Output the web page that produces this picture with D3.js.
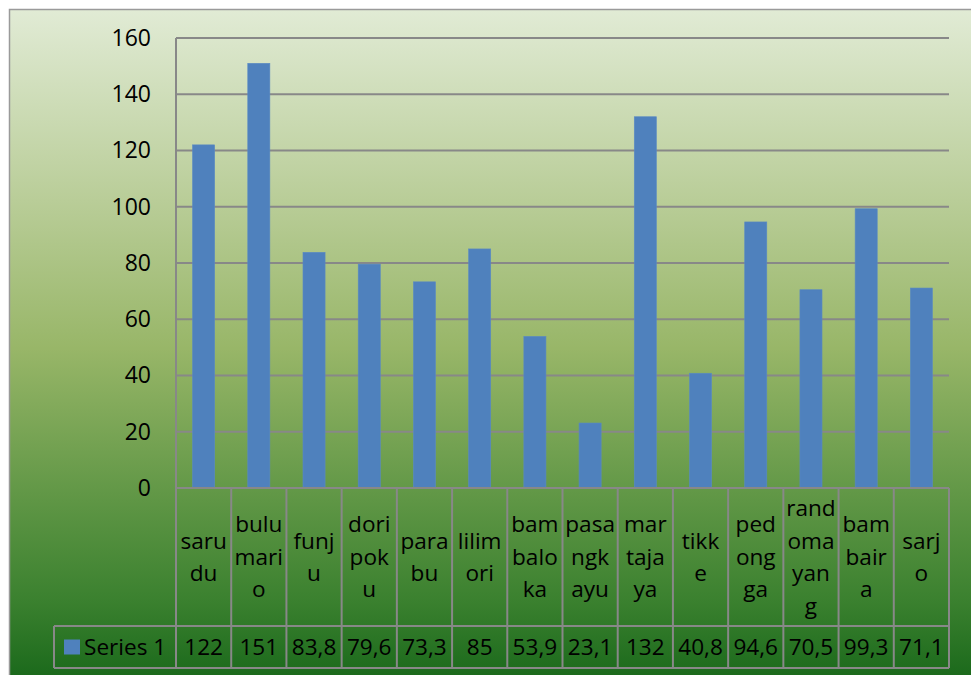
<!DOCTYPE html>
<html>
<head>
<meta charset="utf-8">
<script src="https://cdn.jsdelivr.net/npm/d3@7"></script>
<style>
  html, body { margin: 0; padding: 0; background: #ffffff; }
  svg { display: block; }
  text { font-family: "Open Sans", "Noto Sans", sans-serif; fill: #000; }
</style>
</head>
<body>
<svg id="chart" width="971" height="675"></svg>
<script>
// Category names, split into the lines shown in each table cell
const categoryLines = [
  ["saru", "du"],
  ["bulu", "mari", "o"],
  ["funj", "u"],
  ["dori", "pok", "u"],
  ["para", "bu"],
  ["lilim", "ori"],
  ["bam", "balo", "ka"],
  ["pasa", "ngk", "ayu"],
  ["mar", "taja", "ya"],
  ["tikk", "e"],
  ["ped", "ong", "ga"],
  ["rand", "oma", "yan", "g"],
  ["bam", "bair", "a"],
  ["sarj", "o"]
];
const categories = categoryLines.map(l => l.join(""));
const seriesName = "Series 1";
const values = [122, 151, 83.8, 79.6, 73.3, 85, 53.9, 23.1, 132, 40.8, 94.6, 70.5, 99.3, 71.1];
const yTicks = [0, 20, 40, 60, 80, 100, 120, 140, 160];

const svg = d3.select("#chart");

// Layout
const plotLeft = 176, plotRight = 949, plotTop = 38, plotBottom = 488;
const catRowBottom = 626, tableBottom = 668, legendLeft = 54;
const gridColor = "#888888";
const fontSize = "22.6px";

// Background gradient of the chart area
const defs = svg.append("defs");
const grad = defs.append("linearGradient")
  .attr("id", "bg")
  .attr("gradientUnits", "userSpaceOnUse")
  .attr("x1", 0).attr("y1", 9).attr("x2", 0).attr("y2", 675);
[
  [0, "#e1ebd5"],
  [0.287, "#b9cd98"],
  [0.51, "#98b668"],
  [0.737, "#5f9645"],
  [0.887, "#3b812f"],
  [1, "#1c6a1c"]
].forEach(([o, c]) => grad.append("stop").attr("offset", o).attr("stop-color", c));

svg.append("rect")
  .attr("x", 9.5).attr("y", 9.5)
  .attr("width", 1000).attr("height", 700)
  .attr("fill", "url(#bg)")
  .attr("stroke", "#9a9a9a")
  .attr("stroke-width", 1.5);

// Scales
const x = d3.scaleBand()
  .domain(categories)
  .range([plotLeft, plotRight])
  .paddingInner(0.6)
  .paddingOuter(0.3);

const cell = d3.scaleBand()
  .domain(categories)
  .range([plotLeft, plotRight])
  .padding(0);

const y = d3.scaleLinear()
  .domain([0, 160])
  .range([plotBottom, plotTop]);

// Horizontal gridlines
svg.append("g")
  .selectAll("line")
  .data(yTicks)
  .join("line")
  .attr("x1", plotLeft).attr("x2", plotRight)
  .attr("y1", d => y(d)).attr("y2", d => y(d))
  .attr("stroke", gridColor)
  .attr("stroke-width", 2);

// Y axis labels
const yAxis = svg.append("g")
  .attr("transform", `translate(${plotLeft},0)`)
  .call(d3.axisLeft(y).tickValues(yTicks).tickSize(0).tickPadding(25).tickFormat(d3.format("d")));
yAxis.select(".domain").remove();
yAxis.selectAll("text")
  .style("font-family", "'Open Sans', 'Noto Sans', sans-serif")
  .style("font-size", "23px")
  .attr("fill", "#000");

// Bars
svg.append("g")
  .selectAll("rect")
  .data(values)
  .join("rect")
  .attr("x", (d, i) => x(categories[i]))
  .attr("width", x.bandwidth())
  .attr("y", d => y(d))
  .attr("height", d => y(0) - y(d))
  .attr("fill", "#4f81bd")
  .attr("stroke", "#5a8ac4")
  .attr("stroke-width", 0.6);

// Vertical axis line continuing through the data table
svg.append("line")
  .attr("x1", plotLeft).attr("x2", plotLeft)
  .attr("y1", plotTop).attr("y2", tableBottom)
  .attr("stroke", gridColor).attr("stroke-width", 2);

// Data table: grid
const table = svg.append("g");
// cell separators
table.selectAll("line.sep")
  .data(categories)
  .join("line")
  .attr("class", "sep")
  .attr("x1", d => cell(d) + cell.bandwidth())
  .attr("x2", d => cell(d) + cell.bandwidth())
  .attr("y1", plotBottom).attr("y2", tableBottom)
  .attr("stroke", gridColor).attr("stroke-width", 2);
// row lines
table.append("line")
  .attr("x1", plotLeft).attr("x2", plotRight)
  .attr("y1", plotBottom).attr("y2", plotBottom)
  .attr("stroke", gridColor).attr("stroke-width", 2);
table.append("line")
  .attr("x1", legendLeft).attr("x2", plotRight)
  .attr("y1", catRowBottom).attr("y2", catRowBottom)
  .attr("stroke", gridColor).attr("stroke-width", 2);
table.append("line")
  .attr("x1", legendLeft).attr("x2", plotRight)
  .attr("y1", tableBottom).attr("y2", tableBottom)
  .attr("stroke", gridColor).attr("stroke-width", 2);
table.append("line")
  .attr("x1", legendLeft).attr("x2", legendLeft)
  .attr("y1", catRowBottom).attr("y2", tableBottom)
  .attr("stroke", gridColor).attr("stroke-width", 2);

// Category labels, vertically centred in their cells
const lineH = 32.5;
const catMid = (plotBottom + catRowBottom) / 2;
const catText = table.selectAll("text.cat")
  .data(categoryLines)
  .join("text")
  .attr("class", "cat")
  .attr("text-anchor", "middle")
  .style("font-size", fontSize);
catText.each(function(lines, i) {
  const cx = cell(categories[i]) + cell.bandwidth() / 2;
  const startY = catMid - (lines.length - 1) * lineH / 2;
  d3.select(this).selectAll("tspan")
    .data(lines)
    .join("tspan")
    .attr("x", cx)
    .attr("y", (d, j) => startY + j * lineH)
    .attr("dy", "0.35em")
    .text(d => d);
});

// Value row
const valMid = (catRowBottom + tableBottom) / 2;
table.selectAll("text.val")
  .data(values)
  .join("text")
  .attr("class", "val")
  .attr("text-anchor", "middle")
  .attr("x", (d, i) => cell(categories[i]) + cell.bandwidth() / 2)
  .attr("y", valMid)
  .attr("dy", "0.35em")
  .style("font-size", fontSize)
  .text(d => String(d).replace(".", ","));

// Legend key in the table
table.append("rect")
  .attr("x", 64).attr("y", valMid - 7.5)
  .attr("width", 16).attr("height", 15)
  .attr("fill", "#4f81bd");
table.append("text")
  .attr("x", 84)
  .attr("y", valMid)
  .attr("dy", "0.35em")
  .style("font-size", fontSize)
  .text(seriesName);
</script>
</body>
</html>
